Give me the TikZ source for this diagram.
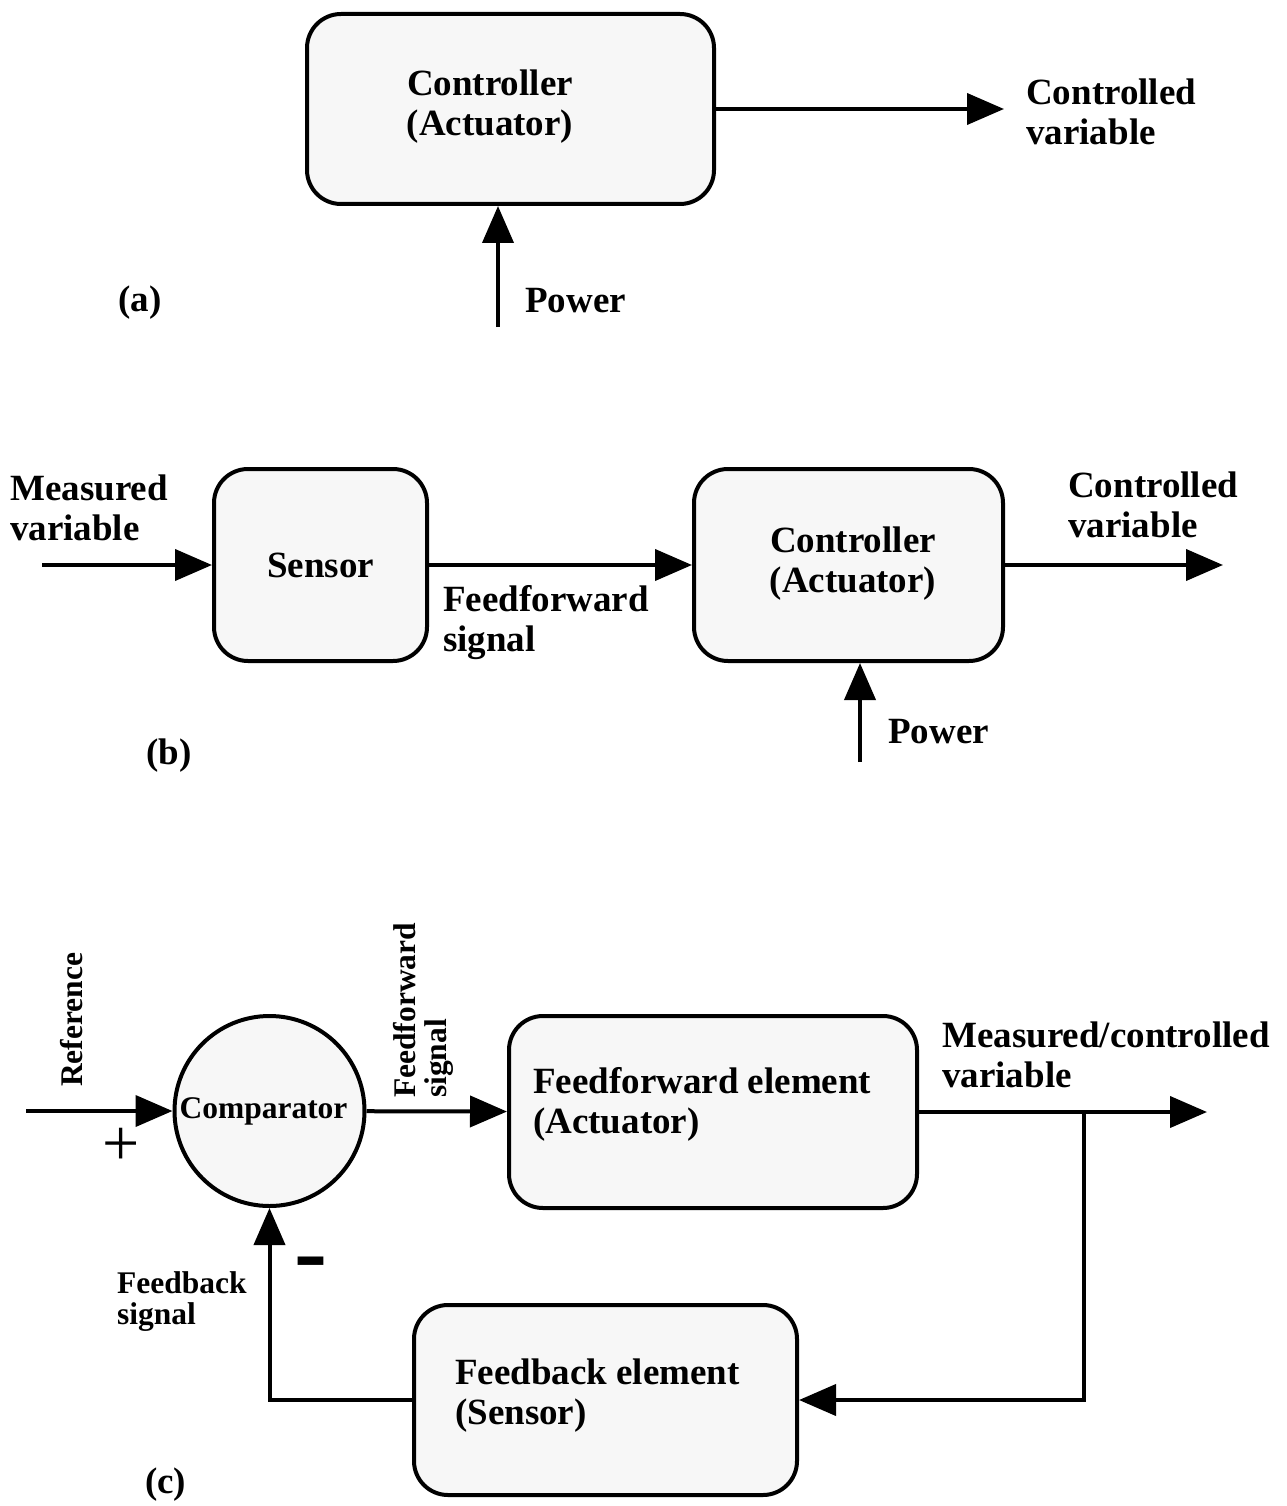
\documentclass[tikz,border=0pt]{standalone}
\usepackage{fontspec}
\setmainfont{Liberation Serif}
\usetikzlibrary{arrows.meta}
\definecolor{boxfill}{gray}{0.969}
\begin{document}
\begin{tikzpicture}[x=1pt,y=-1pt,
  blk/.style={draw=black,line width=4pt,fill=boxfill,rounded corners=34pt,inner sep=0pt},
  cmpr/.style={draw=black,line width=4pt,fill=boxfill,circle,inner sep=0pt,minimum size=190pt},
  arr/.style={line width=4pt,-{Triangle[length=37pt,width=31pt]}},
  big/.style={font=\fontsize{37}{40}\selectfont\bfseries,inner sep=0pt},
  small/.style={font=\fontsize{31.5}{31}\selectfont\bfseries,inner sep=0pt},
  lt/.style={align=left,anchor=base west},
  ct/.style={align=center,anchor=base}]
\useasboundingbox (0,0) rectangle (1286,1506);
% ---------- (a)
\node[blk,minimum width=407pt,minimum height=190pt] (ctrlA) at (510.5,109) {};
\node[big,ct] (ctrlAtxt) at (490,136) {Controller\\(Actuator)};
\coordinate (aout) at (1004,109);
\coordinate (apow) at (498,327);
\draw[arr] (ctrlA) -- (aout);
\draw[arr] (apow) -- (apow |- ctrlA.south);
\node[big,lt] (aouttxt) at (1026,145) {Controlled\\variable};
\node[big,lt] (apowtxt) at (525,312) {Power};
\node[big,lt] (alab) at (118,311) {(a)};
% ---------- (b)
\node[blk,minimum width=213pt,minimum height=192pt,big] (sensor) at (320.5,565) {Sensor};
\node[blk,minimum width=309pt,minimum height=192pt] (ctrlB) at (848.5,565) {};
\node[big,ct] (ctrlBtxt) at (853,592) {Controller\\(Actuator)};
\coordinate (bin) at (42,565);
\coordinate (bout) at (1223,565);
\coordinate (bpow) at (860,762);
\draw[arr] (bin) -- (sensor);
\draw[arr] (sensor) -- (ctrlB);
\draw[arr] (ctrlB) -- (bout);
\draw[arr] (bpow) -- (bpow |- ctrlB.south);
\node[big,lt] (bintxt) at (10,540) {Measured\\variable};
\node[big,lt] (bfftxt) at (443,651) {Feedforward\\signal};
\node[big,lt] (bouttxt) at (1068,537) {Controlled\\variable};
\node[big,lt] (bpowtxt) at (888,743) {Power};
\node[big,lt] (blab) at (146,764) {(b)};
% ---------- (c)
\node[cmpr,small] (comp) at (269.5,1111) {\hspace*{-12pt}Comparator};
\node[blk,minimum width=408pt,minimum height=192pt] (ffe) at (713,1112) {};
\node[blk,minimum width=383pt,minimum height=190pt] (fbe) at (605.5,1400) {};
\coordinate (cin) at (26,1111);
\coordinate (cout) at (1207,1112);
\coordinate (br) at (1084,1112);
\draw[arr] (cin) -- (comp);
\draw[arr] (comp) -- (ffe);
\draw[arr] (ffe) -- (cout);
\draw[arr] (br) |- (fbe);
\draw[arr] (fbe) -| (comp);
\node[small,lt,rotate=90] (reftxt) at (82,1087) {Reference};
\node[small,lt,rotate=90] (cfftxt) at (446,1098) {Feedforward\\signal};
\node[font=\fontsize{66}{66}\selectfont,inner sep=0pt] (plus) at (121.5,1147) {+};
\node[font=\fontsize{99}{99}\selectfont\bfseries,inner sep=0pt] (minus) at (311,1271) {-};
\node[big,lt] (ffetxt) at (533,1133) {Feedforward element\\(Actuator)};
\node[big,lt] (fbetxt) at (455,1424) {Feedback element\\(Sensor)};
\node[big,lt] (couttxt) at (942,1087) {Measured/controlled\\variable};
\node[small,lt] (fbstxt) at (117,1324) {Feedback\\signal};
\node[big,lt] (clab) at (145,1493) {(c)};
\end{tikzpicture}
\end{document}
